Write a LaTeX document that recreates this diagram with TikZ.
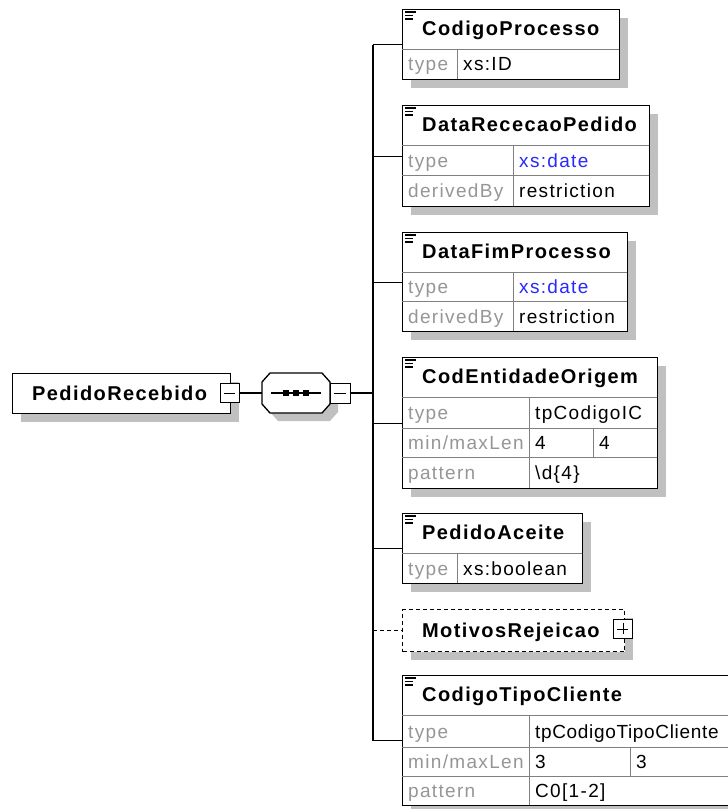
\documentclass[tikz,border=0pt]{standalone}
\usepackage{fontspec}
\setmainfont{Liberation Sans}[LetterSpace=7]
\usetikzlibrary{positioning,calc,shadows}
\definecolor{shadegray}{RGB}{192,192,192}
\definecolor{gridgray}{RGB}{128,128,128}
\definecolor{keygray}{RGB}{150,150,150}
\definecolor{typeblue}{RGB}{40,40,255}

\begin{document}
\begin{tikzpicture}[x=1pt,y=-1pt,
		elem/.style={draw=black,line width=1.3pt,fill=white,inner sep=0pt,anchor=north west,
			drop shadow={shadow xshift=8pt,shadow yshift=-8pt,fill=shadegray,opacity=1}},
		grid/.style={draw=gridgray,line width=1pt},
		link/.style={draw=black,line width=1.3pt},
		docmark/.style={draw=black,line width=1.2pt},
		toggle/.style={draw=black,line width=1pt,fill=white,minimum size=19pt,inner sep=0pt},
		head/.style={font=\fontsize{20pt}{22pt}\selectfont\bfseries,anchor=base west,inner sep=0pt},
		key/.style={font=\fontsize{19pt}{21pt}\selectfont,text=keygray,anchor=base west,inner sep=0pt},
		val/.style={font=\fontsize{19pt}{21pt}\selectfont,anchor=base west,inner sep=0pt}]
	\useasboundingbox (0,0) rectangle (728,809);
	\clip (0,0) rectangle (728,809);
	\fill[white] (0,0) rectangle (728,809);

	% root element and sequence
	\node[elem,minimum width=218pt,minimum height=40pt]	(root)	at (12,373)	{};
	\node[head]	at (32,400)	{PedidoRecebido};
	\node[toggle]	(rootm)	at (229.5,393)	{};
	\draw (rootm.west) ++(4,0) -- ++(11,0);
	\node[minimum width=68pt,minimum height=40pt,inner sep=0pt]	(seq)	at (296,393)	{};
	\fill[shadegray] (278,381) -- (330,381) -- (338,390) -- (338,412) -- (330,421) -- (278,421) -- (270,412) -- (270,390) -- cycle;
	\draw[fill=white,line width=1.3pt] (270,373) -- (322,373) -- (330,382) -- (330,404) -- (322,413) -- (270,413) -- (262,404) -- (262,382) -- cycle;
	\draw[line width=1.3pt] (271,393) -- (321,393);
	\foreach \x in {286,296,306}
		\fill (\x-3,390) rectangle (\x+3,396);
	\node[toggle,minimum size=20pt]	(seqm)	at (340,393)	{};
	\draw (seqm.west) ++(4,0) -- ++(12,0);
	\coordinate (bus) at (373,393);

	% child elements
	\node[elem,minimum width=217pt,minimum height=70pt]	(cp)	at (402,9)	{};
	\draw[grid] (402,49) -- (619,49) (457,49) -- (457,79);
	\node[head]	at (422,35)	{CodigoProcesso};
	\node[key]	at (408,70)	{type};
	\node[val]	at (463,70)	{xs:ID};

	\node[elem,minimum width=247pt,minimum height=101pt]	(drp)	at (402,105)	{};
	\draw[grid] (402,145) -- (649,145) (402,175) -- (649,175) (513,145) -- (513,206);
	\node[head]	at (422,131)	{DataRececaoPedido};
	\node[key]	at (408,167)	{type};
	\node[val,text=typeblue]	at (519,167)	{xs:date};
	\node[key]	at (408,197)	{derivedBy};
	\node[val]	at (519,197)	{restriction};

	\node[elem,minimum width=225pt,minimum height=99pt]	(dfp)	at (402,232)	{};
	\draw[grid] (402,272) -- (627,272) (402,301) -- (627,301) (513,272) -- (513,331);
	\node[head]	at (422,258)	{DataFimProcesso};
	\node[key]	at (408,293)	{type};
	\node[val,text=typeblue]	at (519,293)	{xs:date};
	\node[key]	at (408,323)	{derivedBy};
	\node[val]	at (519,323)	{restriction};

	\node[elem,minimum width=255pt,minimum height=131pt]	(ceo)	at (402,357)	{};
	\draw[grid] (402,397) -- (657,397) (402,428) -- (657,428) (402,457) -- (657,457)
		(529,397) -- (529,488) (593,428) -- (593,457);
	\node[head]	at (422,383)	{CodEntidadeOrigem};
	\node[key]	at (408,419)	{type};
	\node[val]	at (535,419)	{tpCodigoIC};
	\node[key]	at (408,449)	{min/maxLen};
	\node[val]	at (535,449)	{4};
	\node[val]	at (599,449)	{4};
	\node[key]	at (408,479)	{pattern};
	\node[val]	at (535,479)	{\textbackslash d\{4\}};

	\node[elem,minimum width=180pt,minimum height=70pt]	(pa)	at (402,513)	{};
	\draw[grid] (402,553) -- (582,553) (457,553) -- (457,583);
	\node[head]	at (422,539)	{PedidoAceite};
	\node[key]	at (408,575)	{type};
	\node[val]	at (463,575)	{xs:boolean};

	\node[elem,dash pattern=on 4pt off 3pt,line width=1pt,minimum width=222pt,minimum height=42pt]	(mr)	at (402,609)	{};
	\node[head]	at (422,637)	{MotivosRejeicao};
	\node[toggle]	(mrp)	at (623,629)	{};
	\draw (mrp.west) ++(4,0) -- ++(11,0) (mrp.north) ++(0,4) -- ++(0,11);

	\node[elem,minimum width=340pt,minimum height=130pt]	(ctc)	at (402,675)	{};
	\draw[grid] (402,715) -- (742,715) (402,747) -- (742,747) (402,776) -- (742,776)
		(529,715) -- (529,805) (630,747) -- (630,776);
	\node[head]	at (422,701)	{CodigoTipoCliente};
	\node[key]	at (408,738)	{type};
	\node[val]	at (535,738)	{\addfontfeature{LetterSpace=3.5}tpCodigoTipoCliente};
	\node[key]	at (408,768)	{min/maxLen};
	\node[val]	at (535,768)	{3};
	\node[val]	at (636,768)	{3};
	\node[key]	at (408,797)	{pattern};
	\node[val]	at (535,797)	{C0[1-2]};

	\foreach \b in {cp,drp,dfp,ceo,pa,ctc}
		\draw[docmark] ($(\b.north west)+(3,3)$) -- +(11,0) ($(\b.north west)+(3,6.5)$) -- +(8,0)
			($(\b.north west)+(3,10)$) -- +(8,0);

	% connectors
	\draw[link] (rootm.east) -- (seq.west);
	\draw[link] (seqm.east) -- (bus);
	\draw[link] (bus |- cp.west) -- (bus |- ctc.west);
	\foreach \b in {cp,drp,dfp,ceo,pa,ctc}
		\draw[link] (bus |- \b.west) -- (\b.west);
	\draw[link,dash pattern=on 4pt off 3pt,line width=1pt] (bus |- mr.west) -- (mr.west);
\end{tikzpicture}
\end{document}
